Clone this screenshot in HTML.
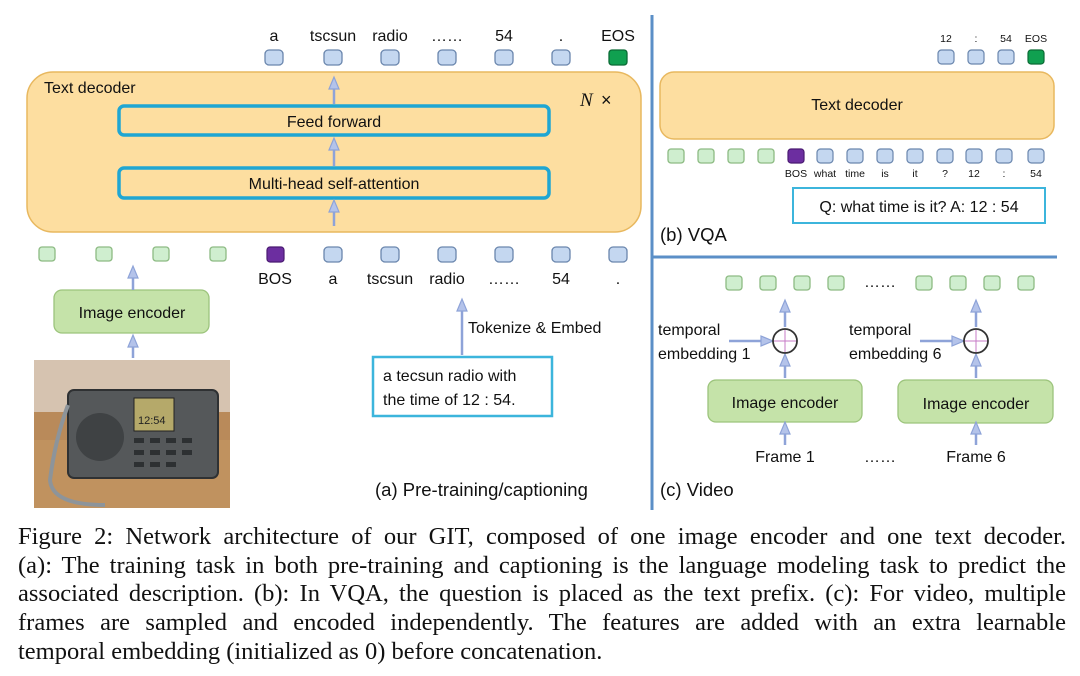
<!DOCTYPE html>
<html><head><meta charset="utf-8"><style>
body{margin:0;background:#fff;width:1080px;height:676px;overflow:hidden;position:relative;font-family:"Liberation Sans",sans-serif}
svg{position:absolute;left:0;top:0}
.cap{position:absolute;left:18px;top:523px;width:1048px;font-family:"Liberation Serif",serif;font-size:24.5px;line-height:28.7px;color:#111}
.cap div{text-align:justify;text-align-last:justify;white-space:nowrap;}
.cap div.l{text-align-last:left}
</style></head><body>
<svg width="1080" height="520" viewBox="0 0 1080 520" font-family="Liberation Sans, sans-serif" fill="#111">
<defs>
<g id="tb"><rect x="-9" y="0" width="18" height="15" rx="4" fill="#c4d7f0" stroke="#6a86ad" stroke-width="1.3"/></g>
<g id="tg"><rect x="-8" y="0" width="16" height="14" rx="3" fill="#cfeecf" stroke="#8dbb83" stroke-width="1.3"/></g>
<g id="tbs"><rect x="-8" y="0" width="16" height="14" rx="3.5" fill="#c4d7f0" stroke="#6a86ad" stroke-width="1.2"/></g>
<g id="au"><path d="M-5,10 L0,-2 L5,10 Z" fill="#b4c3ea" stroke="#8ea3d8" stroke-width="1.2"/></g>
<g id="ar"><path d="M-10,-5 L2,0 L-10,5 Z" fill="#b4c3ea" stroke="#8ea3d8" stroke-width="1.2"/></g>
</defs>
<!-- (a) -->
<g font-size="16" text-anchor="middle">
<text x="274" y="41">a</text><text x="333" y="41">tscsun</text><text x="390" y="41">radio</text><text x="447" y="41">……</text><text x="504" y="41">54</text><text x="561" y="41">.</text><text x="618" y="41">EOS</text>
</g>
<use href="#tb" x="274" y="50"/><use href="#tb" x="333" y="50"/><use href="#tb" x="390" y="50"/><use href="#tb" x="447" y="50"/><use href="#tb" x="504" y="50"/><use href="#tb" x="561" y="50"/>
<rect x="609" y="50" width="18" height="15" rx="3" fill="#10a050" stroke="#0b6b35" stroke-width="1.3"/>
<rect x="27" y="72" width="614" height="160" rx="26" fill="#fddea0" stroke="#e8b85f" stroke-width="1.5"/>
<text x="44" y="93" font-size="16">Text decoder</text>
<text x="580" y="106" font-size="19" font-family="Liberation Serif, serif" font-style="italic">N</text><text x="601" y="106" font-size="18">×</text>
<rect x="119" y="106" width="430" height="29" rx="5" fill="#fddea0" stroke="#1fa6d3" stroke-width="3.5"/>
<text x="334" y="127" font-size="16" text-anchor="middle">Feed forward</text>
<rect x="119" y="168" width="430" height="30" rx="5" fill="#fddea0" stroke="#1fa6d3" stroke-width="3.5"/>
<text x="334" y="189" font-size="16" text-anchor="middle">Multi-head self-attention</text>
<use href="#tg" x="47" y="247"/><use href="#tg" x="104" y="247"/><use href="#tg" x="161" y="247"/><use href="#tg" x="218" y="247"/>
<rect x="267" y="247" width="17" height="15" rx="3" fill="#6c2ea0" stroke="#4a1a72" stroke-width="1.2"/>
<use href="#tb" x="333" y="247"/><use href="#tb" x="390" y="247"/><use href="#tb" x="447" y="247"/><use href="#tb" x="504" y="247"/><use href="#tb" x="561" y="247"/><use href="#tb" x="618" y="247"/>
<g font-size="16" text-anchor="middle">
<text x="275" y="284">BOS</text><text x="333" y="284">a</text><text x="390" y="284">tscsun</text><text x="447" y="284">radio</text><text x="504" y="284">……</text><text x="561" y="284">54</text><text x="618" y="284">.</text>
</g>
<rect x="54" y="290" width="155" height="43" rx="8" fill="#c5e3a9" stroke="#9cc47c" stroke-width="1.3"/>
<text x="132" y="318" font-size="16" text-anchor="middle">Image encoder</text>
<text x="468" y="333" font-size="16">Tokenize &amp; Embed</text>
<rect x="373" y="357" width="179" height="59" fill="#fff" stroke="#3cb5dc" stroke-width="2.5"/>
<text x="383" y="381" font-size="16">a tecsun radio with</text>
<text x="383" y="405" font-size="16">the time of 12 : 54.</text>
<text x="375" y="496" font-size="18.5">(a) Pre-training/captioning</text>
<!-- photo -->
<rect x="34" y="360" width="196" height="148" fill="#b98a5a"/>
<rect x="34" y="360" width="196" height="52" fill="#d6c3b0"/>
<rect x="34" y="440" width="196" height="68" fill="#c0925f"/>
<rect x="68" y="390" width="150" height="88" rx="6" fill="#55585a" stroke="#2f3133" stroke-width="2"/>
<circle cx="100" cy="437" r="24" fill="#3f4244"/>
<rect x="134" y="398" width="40" height="33" fill="#b5a96a" stroke="#222"/>
<text x="138" y="424" font-size="11" fill="#222">12:54</text>
<g fill="#2d3032"><rect x="134" y="438" width="10" height="5"/><rect x="150" y="438" width="10" height="5"/><rect x="166" y="438" width="10" height="5"/><rect x="182" y="438" width="10" height="5"/><rect x="134" y="450" width="10" height="5"/><rect x="150" y="450" width="10" height="5"/><rect x="166" y="450" width="10" height="5"/><rect x="182" y="450" width="10" height="5"/><rect x="134" y="462" width="10" height="5"/><rect x="150" y="462" width="10" height="5"/><rect x="166" y="462" width="10" height="5"/></g>
<path d="M68,405 Q55,440 50,480 Q52,505 105,505" stroke="#8d949a" stroke-width="4" fill="none"/>
<!-- dividers -->
<line x1="652" y1="15" x2="652" y2="510" stroke="#5b8fc7" stroke-width="3"/>
<line x1="652" y1="257" x2="1057" y2="257" stroke="#5b8fc7" stroke-width="3"/>
<!-- (b) -->
<g font-size="10.5" text-anchor="middle">
<text x="946" y="42">12</text><text x="976" y="42">:</text><text x="1006" y="42">54</text><text x="1036" y="42">EOS</text>
</g>
<use href="#tbs" x="946" y="50"/><use href="#tbs" x="976" y="50"/><use href="#tbs" x="1006" y="50"/>
<rect x="1028" y="50" width="16" height="14" rx="3" fill="#10a050" stroke="#0b6b35" stroke-width="1.2"/>
<rect x="660" y="72" width="394" height="67" rx="14" fill="#fddea0" stroke="#e8b85f" stroke-width="1.5"/>
<text x="857" y="110" font-size="16" text-anchor="middle">Text decoder</text>
<use href="#tg" x="676" y="149"/><use href="#tg" x="706" y="149"/><use href="#tg" x="736" y="149"/><use href="#tg" x="766" y="149"/>
<rect x="788" y="149" width="16" height="14" rx="3" fill="#6c2ea0" stroke="#4a1a72" stroke-width="1.2"/>
<use href="#tbs" x="825" y="149"/><use href="#tbs" x="855" y="149"/><use href="#tbs" x="885" y="149"/><use href="#tbs" x="915" y="149"/><use href="#tbs" x="945" y="149"/><use href="#tbs" x="974" y="149"/><use href="#tbs" x="1004" y="149"/><use href="#tbs" x="1036" y="149"/>
<g font-size="10.5" text-anchor="middle">
<text x="796" y="177">BOS</text><text x="825" y="177">what</text><text x="855" y="177">time</text><text x="885" y="177">is</text><text x="915" y="177">it</text><text x="945" y="177">?</text><text x="974" y="177">12</text><text x="1004" y="177">:</text><text x="1036" y="177">54</text>
</g>
<rect x="793" y="188" width="252" height="35" fill="#fff" stroke="#3cb5dc" stroke-width="2"/>
<text x="919" y="212" font-size="16" text-anchor="middle">Q: what time is it? A: 12 : 54</text>
<text x="660" y="241" font-size="18.5">(b) VQA</text>
<!-- (c) -->
<use href="#tg" x="734" y="276"/><use href="#tg" x="768" y="276"/><use href="#tg" x="802" y="276"/><use href="#tg" x="836" y="276"/>
<text x="880" y="287" font-size="16" text-anchor="middle">……</text>
<use href="#tg" x="924" y="276"/><use href="#tg" x="958" y="276"/><use href="#tg" x="992" y="276"/><use href="#tg" x="1026" y="276"/>
<g font-size="16">
<text x="658" y="335">temporal</text><text x="658" y="359">embedding 1</text>
<text x="849" y="335">temporal</text><text x="849" y="359">embedding 6</text>
</g>
<rect x="708" y="380" width="154" height="42" rx="8" fill="#c5e3a9" stroke="#9cc47c" stroke-width="1.3"/>
<text x="785" y="408" font-size="16" text-anchor="middle">Image encoder</text>
<rect x="898" y="380" width="155" height="43" rx="8" fill="#c5e3a9" stroke="#9cc47c" stroke-width="1.3"/>
<text x="976" y="409" font-size="16" text-anchor="middle">Image encoder</text>
<g font-size="16" text-anchor="middle"><text x="785" y="462">Frame 1</text><text x="880" y="462">……</text><text x="976" y="462">Frame 6</text></g>
<text x="660" y="496" font-size="18.5">(c) Video</text>
<!-- connectors on top -->
<g stroke="#8ea3d8" stroke-width="2.5">
<line x1="334" y1="226" x2="334" y2="205"/><line x1="334" y1="166" x2="334" y2="145"/><line x1="334" y1="104" x2="334" y2="84"/>
<line x1="133" y1="290" x2="133" y2="272"/><line x1="133" y1="358" x2="133" y2="340"/><line x1="462" y1="355" x2="462" y2="305"/>
<line x1="785" y1="327" x2="785" y2="308"/><line x1="785" y1="378" x2="785" y2="362"/><line x1="785" y1="445" x2="785" y2="430"/>
<line x1="729" y1="341" x2="765" y2="341"/>
<line x1="976" y1="327" x2="976" y2="308"/><line x1="976" y1="378" x2="976" y2="362"/><line x1="976" y1="445" x2="976" y2="430"/>
<line x1="920" y1="341" x2="956" y2="341"/>
</g>
<use href="#au" x="334" y="202"/><use href="#au" x="334" y="140"/><use href="#au" x="334" y="79"/>
<use href="#au" x="133" y="268"/><use href="#au" x="133" y="337"/><use href="#au" x="462" y="301"/>
<use href="#au" x="785" y="302"/><use href="#au" x="785" y="356"/><use href="#au" x="785" y="424"/>
<use href="#au" x="976" y="302"/><use href="#au" x="976" y="356"/><use href="#au" x="976" y="424"/>
<use href="#ar" x="771" y="341"/><use href="#ar" x="962" y="341"/>
<g fill="#fff" stroke="#333" stroke-width="1.8">
<circle cx="785" cy="341" r="12"/><circle cx="976" cy="341" r="12"/>
</g>
<g stroke="#c77bc7" stroke-width="1">
<line x1="785" y1="330" x2="785" y2="352"/><line x1="774" y1="341" x2="796" y2="341"/>
<line x1="976" y1="330" x2="976" y2="352"/><line x1="965" y1="341" x2="987" y2="341"/>
</g>
</svg>
<div class="cap">
<div>Figure 2: Network architecture of our GIT, composed of one image encoder and one text decoder.</div>
<div>(a): The training task in both pre-training and captioning is the language modeling task to predict the</div>
<div>associated description. (b): In VQA, the question is placed as the text prefix. (c): For video, multiple</div>
<div>frames are sampled and encoded independently. The features are added with an extra learnable</div>
<div class="l">temporal embedding (initialized as 0) before concatenation.</div>
</div>
</body></html>
